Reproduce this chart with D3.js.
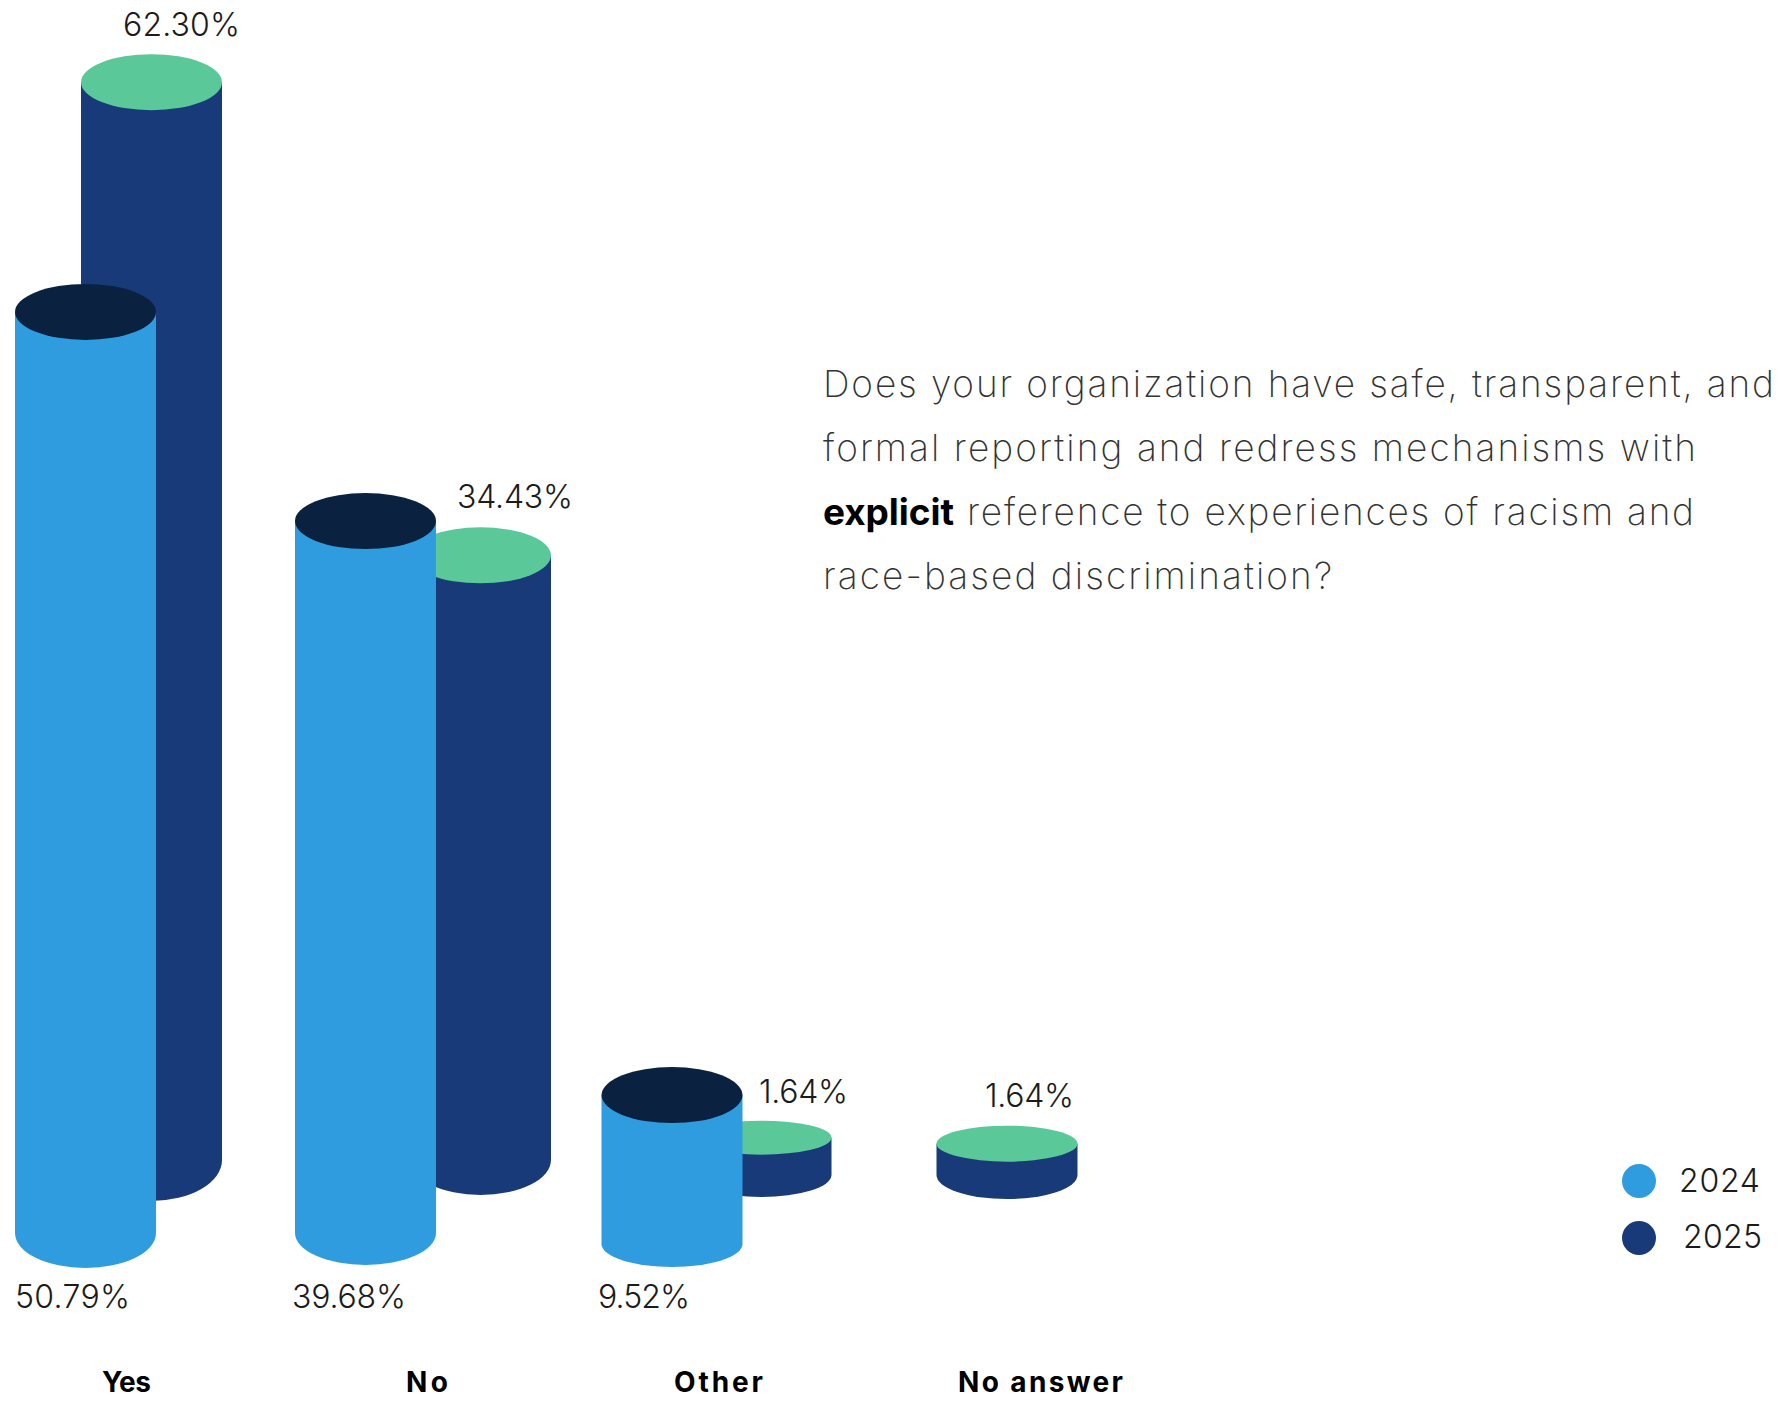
<!DOCTYPE html>
<html>
<head>
<meta charset="utf-8">
<script src="https://cdn.jsdelivr.net/npm/d3@7"></script>
<style>
  html, body { margin: 0; padding: 0; background: #fff; }
  svg { display: block; }
  text { fill: #1b1b1b; }
</style>
</head>
<body>
<svg id="chart" width="1781" height="1401"></svg>
<script>
// Survey answers, percent of respondents
const categories = ["Yes", "No", "Other", "No answer"];
const values2024 = [50.79, 39.68, 9.52, null];
const values2025 = [62.30, 34.43, 1.64, 1.64];
const legendYears = ["2024", "2025"];
const questionLines = [
  [{ t: "Does your organization have safe, transparent, and", x0: 823, x1: 1774 }],
  [{ t: "formal reporting and redress mechanisms with", x0: 823, x1: 1696 }],
  [{ t: "explicit", x0: 823, x1: 954, bold: true }, { t: "reference to experiences of racism and", x0: 967, x1: 1694 }],
  [{ t: "race-based discrimination?", x0: 823, x1: 1332 }]
];

const colors = {
  s2024: "#309ce0", s2025: "#193a78",
  cap2024: "#0a2240", cap2025: "#5ac899"
};

// Column layout per answer, one table per year
const layout2024 = {
  cx: [85.5, 365.5, 672, 0], rx: [70.5, 70.5, 70.5, 0],
  side: [1233, 1233, 1244, 0], foot: [35, 32, 23, 0], cap: [28, 28, 28, 0], nudge: [0, -2, -1, 0],
  label: [[15, 130, 1308], [292, 406, 1308], [598, 690, 1308], null]
};
const layout2025 = {
  cx: [151.5, 480.5, 761, 1007], rx: [70.5, 70.5, 70.5, 70.5],
  side: [1160, 1160, 1175, 1175], foot: [41, 35, 22, 24], cap: [28, 28, 17, 18], nudge: [-2, -11, 4, 10],
  label: [[123, 240, 36], [457, 573, 508], [759, 848, 1103], [985, 1074, 1107]]
};
const categoryLabels = [[102, 151], [406, 448], [674, 763], [958, 1123]];

// Vertical scales: percentage to the height of each column's top
const y2024 = d3.scaleLinear().domain([0, 100]).range([1277, -623]);
const y2025 = d3.scaleLinear().domain([0, 100]).range([1162, -568]);

const svg = d3.select("#chart");
const numberFont = "Inter, Lato, sans-serif";
const titleFont = "Inter, Lato, sans-serif";

function fit(sel, x0, x1) {
  sel.attr("x", x0);
  const len = sel.node().getComputedTextLength();
  const n = sel.text().length;
  sel.style("letter-spacing", ((x1 - x0 - len) / Math.max(1, n - 1)) + "px");
}

function cylinderPath(cx, rx, top, side, foot) {
  return `M${cx - rx},${top} L${cx - rx},${side} A${rx},${foot} 0 0 0 ${cx + rx},${side} L${cx + rx},${top} Z`;
}

function drawSeries(values, y, L, bodyColor, capColor) {
  const rows = categories.map((c, i) => ({ c, i, v: values[i] })).filter(d => d.v !== null);
  const g = svg.append("g");
  g.selectAll("path").data(rows).join("path")
    .attr("d", d => cylinderPath(L.cx[d.i], L.rx[d.i], y(d.v) + L.nudge[d.i], L.side[d.i], L.foot[d.i]))
    .attr("fill", bodyColor);
  g.selectAll("ellipse").data(rows).join("ellipse")
    .attr("cx", d => L.cx[d.i]).attr("cy", d => y(d.v) + L.nudge[d.i])
    .attr("rx", d => L.rx[d.i]).attr("ry", d => L.cap[d.i])
    .attr("fill", capColor);
  return rows;
}

function drawValueLabels(rows, L) {
  rows.forEach(d => {
    const [x0, x1, base] = L.label[d.i];
    const t = svg.append("text").attr("y", base)
      .style("font-family", numberFont).style("font-weight", 300).style("font-size", "32px")
      .text(d.v.toFixed(2) + "%");
    fit(t, x0, x1);
  });
}

const rows2025 = drawSeries(values2025, y2025, layout2025, colors.s2025, colors.cap2025);
const rows2024 = drawSeries(values2024, y2024, layout2024, colors.s2024, colors.cap2024);
drawValueLabels(rows2025, layout2025);
drawValueLabels(rows2024, layout2024);

// Answer names under the columns
categories.forEach((c, i) => {
  const t = svg.append("text").attr("y", 1392)
    .style("font-family", numberFont).style("font-weight", 700).style("font-size", "28px")
    .style("fill", "#000")
    .text(c);
  fit(t, categoryLabels[i][0], categoryLabels[i][1]);
});

// Question text
questionLines.forEach((parts, i) => {
  parts.forEach(p => {
    const t = svg.append("text").attr("y", 397 + i * 64)
      .style("font-family", p.bold ? numberFont : titleFont)
      .style("font-weight", p.bold ? 700 : 200).style("font-size", "37px")
      .style("fill", p.bold ? "#000" : "#333")
      .text(p.t);
    fit(t, p.x0, p.x1);
  });
});

// Legend
const legendY = d3.scaleOrdinal().domain(legendYears).range([1181, 1238]);
const legendText = d3.scaleOrdinal().domain(legendYears).range([[1679, 1760, 1192], [1683, 1762, 1248]]);
const legendColor = d3.scaleOrdinal().domain(legendYears).range([colors.s2024, colors.s2025]);
legendYears.forEach(year => {
  svg.append("circle").attr("cx", 1639).attr("cy", legendY(year)).attr("r", 17).attr("fill", legendColor(year));
  const [x0, x1, base] = legendText(year);
  const t = svg.append("text").attr("y", base)
    .style("font-family", numberFont).style("font-weight", 300).style("font-size", "32px")
    .text(year);
  fit(t, x0, x1);
});
</script>
</body>
</html>
